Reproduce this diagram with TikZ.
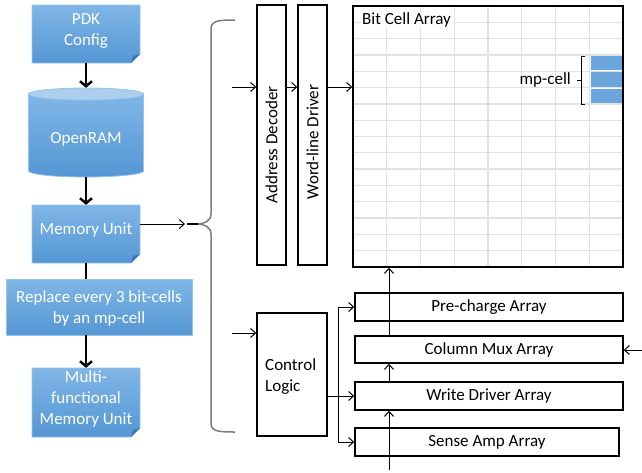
\documentclass[tikz,border=0pt]{standalone}
\usepackage{fontspec}
\setmainfont{Carlito}
\usetikzlibrary{arrows.meta}
\definecolor{bluetop}{RGB}{128,182,230}
\definecolor{bluebot}{RGB}{84,150,212}
\definecolor{blueedge}{RGB}{150,196,236}
\definecolor{bluefold}{RGB}{62,120,180}
\definecolor{topell}{RGB}{172,207,238}
\definecolor{mpblue}{RGB}{106,166,220}
\definecolor{gridgray}{RGB}{226,226,226}
\definecolor{bracegray}{RGB}{125,125,125}
\newcommand\foldbox[4]{%
  \shade[top color=bluetop,bottom color=bluebot,draw=blueedge,line width=0.8pt]
    (#1,#2) -- (#3,#2) -- (#3,#4-9) -- (#3-9,#4) -- (#1,#4) -- cycle;
  \fill[bluefold] (#3,#4-9) -- (#3-9,#4) -- (#3-7,#4-7) -- cycle;}
\begin{document}
\begin{tikzpicture}[x=1pt,y=-1pt,
  font=\fontsize{17}{21}\selectfont,
  wtext/.style={text=white, align=center, inner sep=0pt},
  shapebox/.style={inner sep=0pt},
  blk/.style={draw=black, line width=1.4pt, inner sep=0pt},
  thinarrow/.style={line width=1pt, -{Straight Barb[length=5pt,width=9pt,line width=1pt]}},
  thickarrow/.style={line width=2.6pt, -{Straight Barb[length=5pt,width=12pt,line width=2.4pt]}},
]
\useasboundingbox (0,0) rectangle (642,472);

% ---------- left column ----------
\foldbox{32}{5}{140}{63}
\node[shapebox, minimum width=108, minimum height=58] (pdk) at (86,34) {};
\node[wtext] (pdktext) at (86,31) {PDK\\Config};

\shade[top color=bluetop,bottom color=bluebot,draw=blueedge,line width=0.8pt]
  (28.5,94) -- (28.5,171) arc[start angle=180,end angle=0,x radius=57.5,y radius=6] -- (143.5,94) -- cycle;
\filldraw[fill=topell,draw=blueedge,line width=0.8pt] (86,94) ellipse [x radius=57.5, y radius=6];
\node[shapebox, minimum width=115, minimum height=89] (openram) at (86,132.5) {};
\node[wtext] (ortext) at (86,139) {OpenRAM};

\foldbox{32}{205}{140}{263}
\node[shapebox, minimum width=108, minimum height=58] (mem) at (86,234) {};
\node[wtext] (memtext) at (86,230) {Memory Unit};

\shade[top color=bluetop,bottom color=bluebot,draw=blueedge,line width=0.8pt] (6,279) rectangle (192,335);
\node[shapebox, minimum width=186, minimum height=56] (repl) at (99,307) {};
\node[wtext] (repltext) at (99,308) {Replace every 3 bit-cells\\by an mp-cell};

\foldbox{32}{368}{140}{437}
\node[shapebox, minimum width=108, minimum height=69] (multi) at (86,402.5) {};
\node[wtext] (multitext) at (86,399) {Multi-\\functional\\Memory Unit};

\draw[thickarrow] (pdk.south) -- (openram.north);
\draw[thickarrow] (openram.south) -- (mem.north);
\draw[line width=2.6pt] (mem.south) -- (mem.south |- repl.north);
\draw[thickarrow] (multi.north |- repl.south) -- (multi.north);

% ---------- brace ----------
\coordinate (bt) at (187,224);
\draw[thinarrow] (mem.east |- bt) -- ([xshift=-2pt]bt);
\draw[bracegray, line width=1.5pt] (235,20) .. controls (216,20) and (211,21) .. (211,30) -- (211,214)
  .. controls (211,221) and (204,224) .. (197,224)
  .. controls (204,224) and (211,227) .. (211,234) -- (211,422)
  .. controls (211,431) and (216,432) .. (235,432);
\draw[line width=2pt] (bt) -- (198,224);

% ---------- bit cell array ----------
\foreach \i in {1,...,7} \draw[gridgray, line width=1.3pt] ({353+\i*33.75},6) -- ({353+\i*33.75},267);
\foreach \j in {1,...,15} \draw[gridgray, line width=1.3pt] (353,{6+\j*16.3125}) -- (623,{6+\j*16.3125});
\foreach \j in {3,4,5} \fill[mpblue] (591,{6+\j*16.3125+1}) rectangle (623,{6+(\j+1)*16.3125-1});
\node[blk, minimum width=270, minimum height=261] (bca) at (488,136.5) {};
\node[anchor=west, fill=white, inner sep=1pt] (bcalabel) at (361,20) {Bit Cell Array};
\draw[line width=1pt] (585,56) -- (581,56) -- (581,104) -- (585,104);
\draw[line width=1pt] (581,80) -- (577,80);
\node[anchor=east, inner sep=0pt] (mplabel) at (571,80) {mp-cell};

% ---------- decoder / driver ----------
\node[blk, minimum width=29, minimum height=260] (ad) at (271.5,135) {};
\node[rotate=90, inner sep=0pt] (adtext) at (271.5,145) {Address Decoder};
\node[blk, minimum width=29, minimum height=260] (wld) at (312.5,135) {};
\node[rotate=90, inner sep=0pt] (wldtext) at (312.5,142) {Word-line Driver};

\coordinate (rowin) at (232,87);
\draw[thinarrow] (rowin) -- (rowin -| ad.west);
\draw[thinarrow] (rowin -| ad.east) -- (rowin -| wld.west);
\draw[thinarrow] (rowin -| wld.east) -- (rowin -| bca.west);

% ---------- control ----------
\node[blk, minimum width=70, minimum height=123] (ctrl) at (292,374.5) {};
\node[align=left, anchor=west, inner sep=0pt] (ctrltext) at (265,377) {Control\\Logic};
\coordinate (ctlin) at (232,333);
\draw[thinarrow] (ctlin) -- (ctlin -| ctrl.west);

\node[blk, minimum width=268, minimum height=28] (pre) at (489,307) {Pre-charge Array};
\node[blk, minimum width=268, minimum height=27] (mux) at (489,349.5) {Column Mux Array};
\node[blk, minimum width=268, minimum height=28] (wd) at (489,396) {Write Driver Array};
\node[blk, minimum width=264, minimum height=28] (sa) at (487,442) {Sense Amp Array};

\draw[thinarrow] (ctrl.east |- wd) -- (wd.west);
\coordinate (bus) at (338,0);
\draw[line width=1pt] (bus |- pre) -- (bus |- sa);
\draw[thinarrow] (bus |- pre) -- (pre.west);
\draw[thinarrow] (bus |- sa) -- (sa.west);

\coordinate (colin) at (389,470);
\draw[thinarrow] (colin) -- (colin |- wd.south);
\draw[thinarrow] (colin |- wd.north) -- (colin |- mux.south);
\draw[thinarrow] (colin |- mux.north) -- (colin |- bca.south);

\coordinate (muxin) at (642,350);
\draw[thinarrow] (muxin) -- (muxin -| mux.east);
\end{tikzpicture}
\end{document}
